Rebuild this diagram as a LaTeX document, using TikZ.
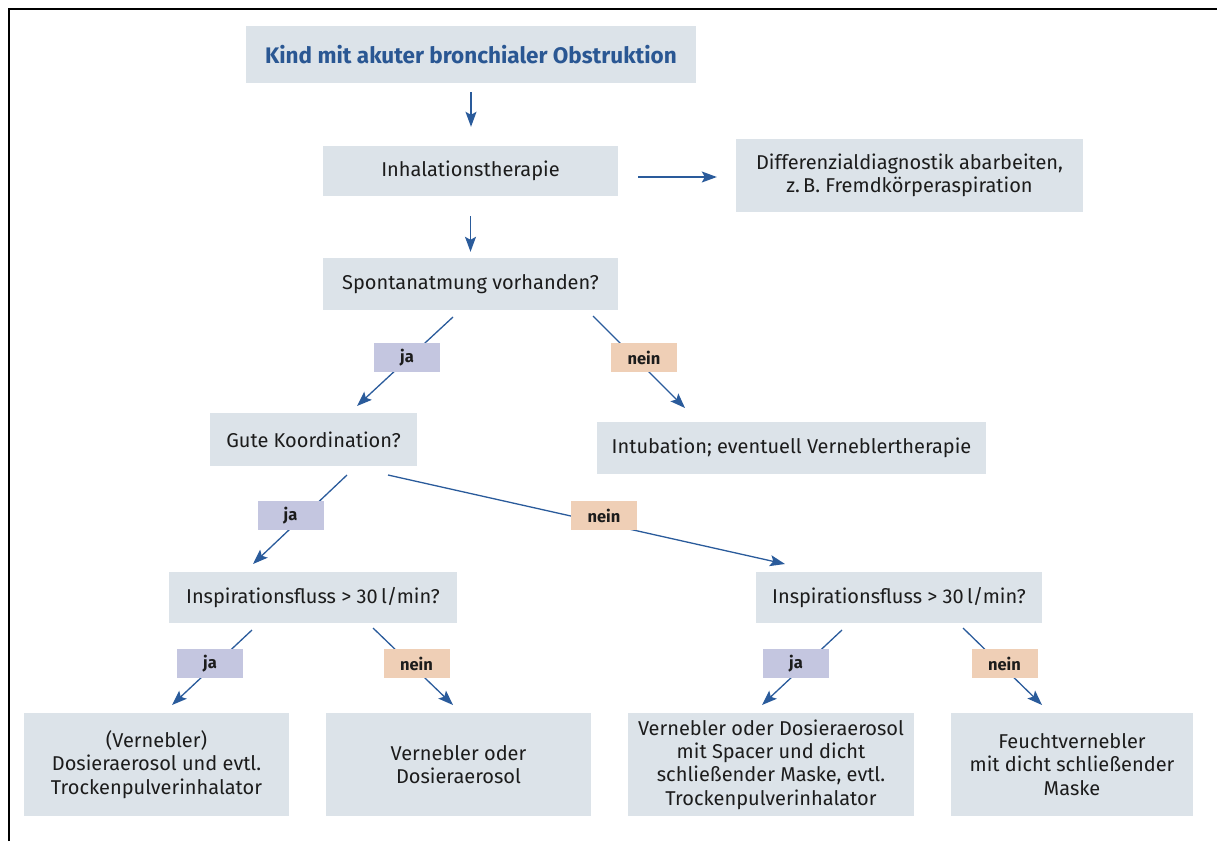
\documentclass[tikz,border=0pt]{standalone}
\usepackage{fontspec}
\setmainfont{Fira Sans}
\usetikzlibrary{arrows.meta}
\definecolor{boxfill}{HTML}{DCE3E9}
\definecolor{jafill}{HTML}{C4C6E0}
\definecolor{neinfill}{HTML}{EFCFB6}
\definecolor{arrowc}{HTML}{2A5B9B}
\definecolor{titlec}{HTML}{2A5793}
\definecolor{textc}{HTML}{1C1C1C}
\begin{document}
\begin{tikzpicture}[x=1pt,y=-1pt,
  box/.style={fill=boxfill, inner sep=0pt, align=center, text=textc,
    font=\fontsize{20}{23.4}\selectfont},
  lbl/.style={inner sep=0pt, minimum width=66pt, minimum height=29pt, text=textc,
    font=\fontsize{16.5}{18}\selectfont\bfseries},
  jabox/.style={lbl, fill=jafill},
  neinbox/.style={lbl, fill=neinfill},
  arr/.style={draw=arrowc, line width=1.3pt, -{Stealth[length=15pt,width=11pt,inset=3pt]}}]
\path[use as bounding box] (0,0) rectangle (1217,841);
% frame
\draw[line width=1.6pt, black] (9,841) -- (9,9) -- (1217,9);

% boxes
\node[box, minimum width=450pt, minimum height=57pt, text=titlec, font=\fontsize{22.5}{26}\selectfont\bfseries] (title) at (471,54.5) {Kind mit akuter bronchialer Obstruktion};
\node[box, minimum width=295pt, minimum height=50pt] (inh) at (470.5,171) {Inhalationstherapie};
\node[box, minimum width=347pt, minimum height=73pt] (diff) at (909.5,175.5) {Differenzialdiagnostik abarbeiten,\\z.\,B. Fremdkörperaspiration};
\node[box, minimum width=295pt, minimum height=52pt] (spont) at (470.5,284) {Spontanatmung vorhanden?};
\node[box, minimum width=207pt, minimum height=53pt] (gute) at (313.5,439.5) {Gute Koordination?};
\node[box, minimum width=389pt, minimum height=52pt] (intub) at (791.5,448) {Intubation; eventuell Verneblertherapie};
\node[box, minimum width=288pt, minimum height=51pt] (insL) at (313,597.5) {Inspirationsfluss > 30\,l/min?};
\node[box, minimum width=286pt, minimum height=51pt] (insR) at (899,597.5) {Inspirationsfluss > 30\,l/min?};
\node[box, minimum width=265pt, minimum height=103pt] (b1) at (156.5,764.5) {(Vernebler)\\Dosieraerosol und evtl.\\Trockenpulverinhalator};
\node[box, minimum width=265pt, minimum height=103pt] (b2) at (458.5,764.5) {Vernebler oder\\Dosieraerosol};
\node[box, minimum width=286pt, minimum height=103pt] (b3) at (771,764.5) {Vernebler oder Dosieraerosol\\mit Spacer und dicht\\schließender Maske, evtl.\\Trockenpulverinhalator};
\node[box, minimum width=242pt, minimum height=103pt] (b4) at (1072,764.5) {Feuchtvernebler\\mit dicht schließender\\Maske};

% arrow end points
\coordinate (sja1) at (453,317);  \coordinate (eja1) at (357,406);
\coordinate (snein1) at (593,316); \coordinate (enein1) at (685,408);
\coordinate (sja2) at (347,475);  \coordinate (eja2) at (253,564);
\coordinate (snein2) at (388,475); \coordinate (enein2) at (785,564);
\coordinate (sja3) at (252,630);  \coordinate (eja3) at (172,705);
\coordinate (snein3) at (373,628); \coordinate (enein3) at (453,705);
\coordinate (sja4) at (842,630);  \coordinate (eja4) at (762,705);
\coordinate (snein4) at (963,628); \coordinate (enein4) at (1042,705);

% connectors
\draw[arr, shorten <=9pt, shorten >=19pt] (title.south) -- (title.south |- inh.north);
\draw[arr, shorten <=20pt, shorten >=6pt] (inh.south) -- (inh.south |- spont.north);
\draw[arr, shorten <=20pt, shorten >=19pt] (inh.east |- 0,177) -- (diff.west |- 0,177);
\draw[arr] (sja1) -- (eja1);
\draw[arr] (snein1) -- (enein1);
\draw[arr] (sja2) -- (eja2);
\draw[arr] (snein2) -- (enein2);
\draw[arr] (sja3) -- (eja3);
\draw[arr] (snein3) -- (enein3);
\draw[arr] (sja4) -- (eja4);
\draw[arr] (snein4) -- (enein4);

% labels
\node[jabox] (ja1) at (407,357.5) {ja};
\node[neinbox] (nein1) at (644,357.5) {nein};
\node[jabox] (ja2) at (290.5,515.5) {ja};
\node[neinbox] (nein2) at (604,515.5) {nein};
\node[jabox] (ja3) at (210,663.5) {ja};
\node[neinbox] (nein3) at (416.5,663.5) {nein};
\node[jabox] (ja4) at (796,663.5) {ja};
\node[neinbox] (nein4) at (1004.5,663.5) {nein};
\end{tikzpicture}
\end{document}
